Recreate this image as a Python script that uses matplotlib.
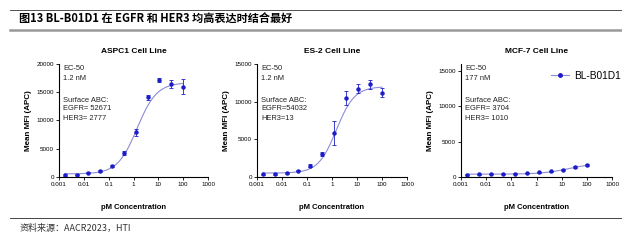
import numpy as np
import matplotlib
matplotlib.use("Agg")
import matplotlib.pyplot as plt
from matplotlib.lines import Line2D

plt.rcParams['font.family'] = ['Liberation Sans', 'DejaVu Sans']

# 3-fold dilution series (pM)
conc = [0.0017, 0.0051, 0.0152, 0.0457, 0.137, 0.41, 1.23, 3.7, 11.1, 33.3, 100]

aspc1_mfi = [300, 420, 730, 1100, 1950, 4250, 7900, 14100, 17200, 16400, 16000]
aspc1_err = [150, 100, 100, 150, 150, 350, 600, 400, 300, 700, 1300]
es2_mfi = [360, 400, 540, 850, 1520, 3050, 5820, 10480, 11730, 12300, 11200]
es2_err = [100, 100, 100, 100, 150, 300, 1600, 900, 550, 600, 600]
mcf7_mfi = [330, 380, 430, 430, 480, 570, 670, 810, 1050, 1430, 1670]
mcf7_err = [60, 60, 60, 60, 60, 60, 60, 80, 100, 180, 150]

# 4PL fit parameters: bottom, top, ec50, hill
aspc1_fit = (550, 16700, 1.4, 1.1)
es2_fit = (520, 12000, 1.5, 1.2)
mcf7_fit = (400, 2000, 20, 0.8)

titles = ["ASPC1 Cell Line", "ES-2 Cell Line", "MCF-7 Cell Line"]
notes = [("EC-50", "1.2 nM", "Surface ABC:", "EGFR= 52671", "HER3= 2777"),
         ("EC-50", "1.2 nM", "Surface ABC:", "EGFR=54032", "HER3=13"),
         ("EC-50", "177 nM", "Surface ABC:", "EGFR= 3704", "HER3= 1010")]
ylims = [20000, 15000, 16000]
yticks = [[0, 5000, 10000, 15000, 20000], [0, 5000, 10000, 15000], [0, 5000, 10000, 15000]]
xticks = [0.001, 0.01, 0.1, 1, 10, 100, 1000]
xticklabels = ["0.001", "0.01", "0.1", "1", "10", "100", "1000"]

W, H = 622, 240
fig = plt.figure(figsize=(W / 100, H / 100), dpi=100)


def box(l, r, t, b):
    return [l / W, 1 - b / H, (r - l) / W, (b - t) / H]


def hill(x, p):
    bottom, top, ec50, n = p
    return bottom + (top - bottom) / (1 + (ec50 / x) ** n)


marker_c = "#1c1cc8"
line_c = "#8c8cd8"

panels = [(59, 208), (257, 407), (461, 612)]
data = [(aspc1_mfi, aspc1_err, aspc1_fit), (es2_mfi, es2_err, es2_fit), (mcf7_mfi, mcf7_err, mcf7_fit)]

for i, (l, r) in enumerate(panels):
    ax = fig.add_axes(box(l, r, 64, 177))
    mfi, err, fit = data[i]
    xs = np.logspace(np.log10(conc[0]), np.log10(conc[-1]), 200)
    ax.plot(xs, hill(xs, fit), color=line_c, lw=0.8)
    ax.errorbar(conc, mfi, yerr=err, fmt="o", ms=2.2, color=marker_c,
                ecolor=marker_c, elinewidth=0.6, capsize=1.2, capthick=0.6)
    ax.set_xscale("log")
    ax.set_xlim(0.001, 1000)
    ax.set_ylim(0, ylims[i])
    ax.set_xticks(xticks)
    ax.set_xticklabels(xticklabels)
    ax.minorticks_off()
    ax.set_yticks(yticks[i])
    ax.tick_params(labelsize=4.5, length=2, width=0.6, pad=1.5)
    for s in ["top", "right"]:
        ax.spines[s].set_visible(False)
    for s in ["left", "bottom"]:
        ax.spines[s].set_linewidth(0.8)
    ax.set_title(titles[i], fontsize=6, fontweight="bold", pad=8)
    ax.set_ylabel("Mean MFI (APC)", fontsize=5.8, fontweight="bold", labelpad=3)
    ax.set_xlabel("pM Concentration", fontsize=5.5, fontweight="bold", labelpad=12)
    n = notes[i]
    ys = [69, 79, 100, 109, 119]
    for txt, yy in zip(n, ys):
        fig.text((l + 4) / W, 1 - yy / H, txt, fontsize=5.4, va="center", ha="left",
                 color="#222222")

# legend in last panel
leg_line = Line2D([0], [0], color=line_c, lw=0.8, marker="o", ms=2.5,
                  markerfacecolor=marker_c, markeredgecolor=marker_c)
fig.legend([leg_line], ["BL-B01D1"], loc="center left", bbox_to_anchor=(551 / W, 1 - 76 / H),
           frameon=False, fontsize=7.3, handlelength=1.8, handletextpad=0.5,
           borderpad=0, borderaxespad=0)

# header and footer decoration
fig.add_artist(Line2D([10 / W, 1], [1 - 10 / H, 1 - 10 / H], color="#333333", lw=0.6))
fig.add_artist(Line2D([10 / W, 1], [1 - 30 / H, 1 - 30 / H], color="#999999", lw=1.8))
fig.add_artist(Line2D([10 / W, 1], [1 - 218 / H, 1 - 218 / H], color="#444444", lw=0.7))
fig.text(19 / W, 1 - 19 / H, "图13 BL-B01D1 在 EGFR 和 HER3 均高表达时结合最好",
         fontsize=8, fontweight="bold", va="center", ha="left",
         family=['Noto Sans CJK SC', 'DejaVu Sans'])
fig.text(20 / W, 1 - 228 / H, "资料来源：AACR2023，HTI", fontsize=6.5, va="center", ha="left",
         color="#333333", family=['Noto Sans CJK SC', 'DejaVu Sans'])

fig.savefig("out.png", dpi=100)
